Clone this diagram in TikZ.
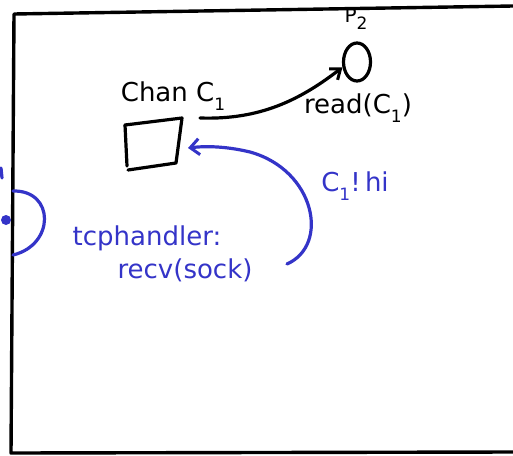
\documentclass[tikz,border=0pt]{standalone}
\usepackage{fontspec}
\setmainfont{DejaVu Sans}
\usetikzlibrary{arrows.meta,shapes.geometric}
\definecolor{penblue}{RGB}{52,52,200}
\newcommand{\subone}[1]{\raisebox{-0.35em}{\fontsize{17}{17}\selectfont #1}}
\begin{document}
\begin{tikzpicture}[x=1pt,y=-1pt,
  ink/.style={line width=3.2pt,line cap=round,line join=round},
  bink/.style={ink,draw=penblue},
  lbl/.style={inner sep=0pt,font=\fontsize{26}{28}\selectfont},
  blbl/.style={lbl,text=penblue}]
\useasboundingbox (0,0) rectangle (513,455);
% frame
\coordinate (ftl) at (14,14);
\coordinate (ftr) at (513,6);
\coordinate (fbl) at (11,453);
\coordinate (fbr) at (513,452);
\draw[ink,line width=3.4pt] (ftr) -- (ftl) -- (fbl) -- (fbr);
% P2 process
\node[lbl,font=\fontsize{20}{22}\selectfont] (p2lbl) at (356,19) {P\subone{2}};
\node[ink,draw,ellipse,minimum width=27,minimum height=38,inner sep=0pt] (p2) at (357,62) {};
% channel
\node[lbl] (chan) at (173,96) {Chan C\subone{1}};
\coordinate (sq1) at (125,125);
\coordinate (sq2) at (182,118);
\coordinate (sq3) at (176,163);
\coordinate (sq4) at (128,170);
\draw[ink] (sq1) -- (sq2) -- (sq3) -- (sq4);
\draw[ink] (sq1) -- (127,166);
\node[inner sep=0pt] (box) at (154,143) {};
% read arrow
\coordinate (rdstart) at (200,118);
\draw[ink,-{Straight Barb[length=9pt,width=14pt,line width=3pt]}] (rdstart) .. controls (260,120) and (300,100) .. (p2.200);
\node[lbl] (read) at (358,108) {read(C\subone{1})};
% send arrow (blue)
\coordinate (sndstart) at (287,264);
\coordinate (sndend) at (188,148);
\draw[bink,-{Straight Barb[length=9pt,width=16pt,line width=3pt]}] (sndstart) .. controls (330,245) and (315,170) .. (250,152) .. controls (225,146) and (205,146) .. (sndend);
\node[blbl] (send) at (355,186) {C\subone{1}!\,hi};
% tcp handler
\node[blbl] (tcp) at (147,238) {tcphandler:};
\node[blbl] (recv) at (185,270) {recv(sock)};
\coordinate (arc1) at (13,191);
\coordinate (arc2) at (13,255);
\draw[bink] (arc1) .. controls (55,190) and (55,245) .. (arc2);
\fill[penblue] (6,220) circle (5pt);
\draw[bink] (1,168) -- (2,178);
\end{tikzpicture}
\end{document}
